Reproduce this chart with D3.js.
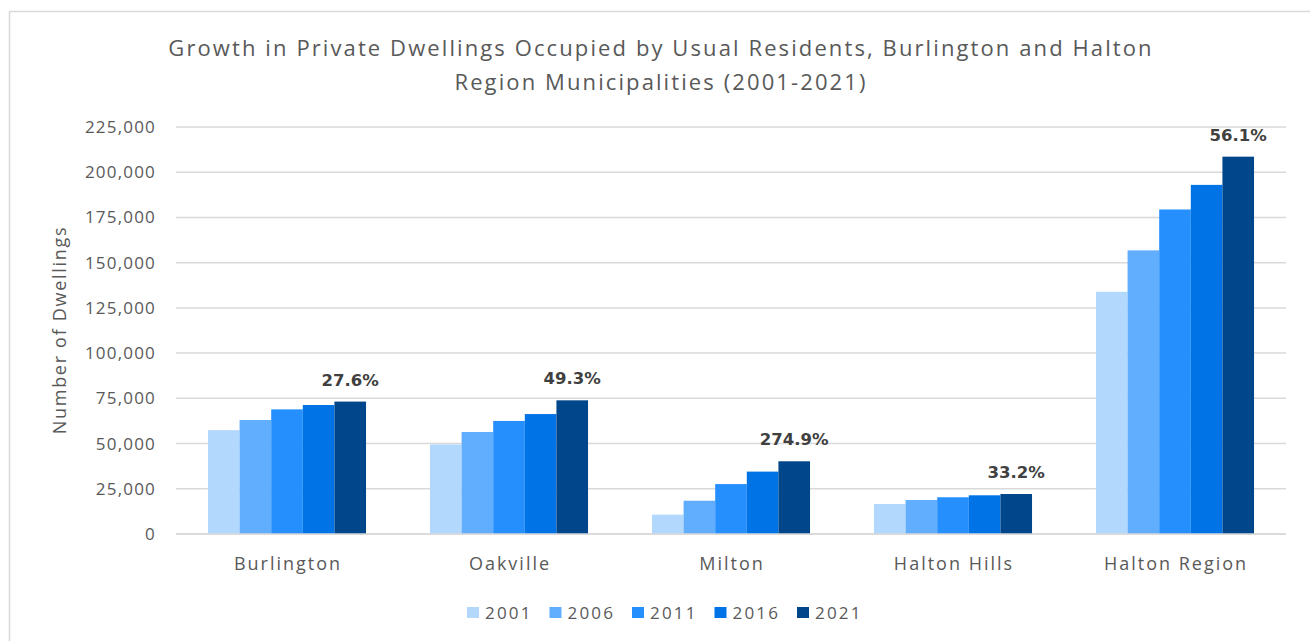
<!DOCTYPE html>
<html>
<head>
<meta charset="utf-8">
<script src="https://cdnjs.cloudflare.com/ajax/libs/d3/7.8.5/d3.min.js"></script>
<style>
  body { margin: 0; background: #fff; }
  #chart { width: 1310px; height: 641px; }
</style>
</head>
<body>
<div id="chart"></div>
<script>
// values
const places = ["Burlington", "Oakville", "Milton", "Halton Hills", "Halton Region"];
const years = ["2001", "2006", "2011", "2016", "2021"];
const dwellings2001 = [57400, 49500, 10700, 16600, 133900];
const dwellings2006 = [63000, 56400, 18400, 18800, 156800];
const dwellings2011 = [68900, 62500, 27600, 20300, 179400];
const dwellings2016 = [71300, 66300, 34500, 21400, 193000];
const dwellings2021 = [73200, 73900, 40200, 22100, 208600];
const growthLabels = ["27.6%", "49.3%", "274.9%", "33.2%", "56.1%"];
const yTicks = [0, 25000, 50000, 75000, 100000, 125000, 150000, 175000, 200000, 225000];
const colors = ["#b3d8fd", "#61adfe", "#258ffe", "#0073e6", "#00468b"];

const series = [dwellings2001, dwellings2006, dwellings2011, dwellings2016, dwellings2021];

const W = 1310, H = 641;
const margin = {left: 176, right: 24, top: 127, bottom: 107};
const textColor = "#595959";

const svg = d3.select("#chart").append("svg")
    .attr("width", W).attr("height", H);

// outer frame
svg.append("rect")
    .attr("x", 9.5).attr("y", 11.5)
    .attr("width", W).attr("height", H)
    .attr("fill", "none").attr("stroke", "#d9d9d9").attr("stroke-width", 1.5);

const x0 = d3.scaleBand()
    .domain(places)
    .range([margin.left, W - margin.right])
    .paddingInner(0.288)
    .paddingOuter(0.144);

const x1 = d3.scaleBand()
    .domain(years)
    .range([0, x0.bandwidth()]);

const y = d3.scaleLinear()
    .domain([0, 225000])
    .range([H - margin.bottom, margin.top]);

const color = d3.scaleOrdinal().domain(years).range(colors);

// gridlines
svg.append("g")
  .selectAll("line")
  .data(yTicks)
  .enter().append("line")
    .attr("x1", margin.left).attr("x2", W - margin.right)
    .attr("y1", d => y(d)).attr("y2", d => y(d))
    .attr("stroke", "#d9d9d9").attr("stroke-width", 1.5);

// y axis labels
const yAxis = d3.axisLeft(y).tickValues(yTicks).tickFormat(d3.format(",")).tickSize(0).tickPadding(20);
svg.append("g")
    .attr("transform", "translate(" + margin.left + ",0)")
    .call(yAxis)
    .call(g => g.select(".domain").remove())
    .selectAll("text")
    .attr("font-family", "Open Sans")
    .attr("font-size", "17px")
    .attr("letter-spacing", "1.2px")
    .attr("fill", textColor);

// bars
const groups = svg.append("g")
  .selectAll("g")
  .data(places)
  .enter().append("g")
    .attr("transform", d => "translate(" + x0(d) + ",0)");

groups.selectAll("rect")
  .data((p, i) => years.map((yr, j) => ({year: yr, value: series[j][i]})))
  .enter().append("rect")
    .attr("x", d => x1(d.year))
    .attr("width", x1.bandwidth())
    .attr("y", d => y(d.value))
    .attr("height", d => y(0) - y(d.value))
    .attr("fill", d => color(d.year));

// growth labels on the 2021 bar
svg.append("g")
  .selectAll("text")
  .data(places)
  .enter().append("text")
    .attr("x", d => x0(d) + x1("2021") + x1.bandwidth() / 2)
    .attr("y", (d, i) => y(dwellings2021[i]) - 16)
    .attr("text-anchor", "middle")
    .attr("font-family", "DejaVu Sans")
    .attr("font-weight", "bold")
    .attr("font-size", "16.5px")
    .attr("fill", "#404040")
    .text((d, i) => growthLabels[i]);

// x axis baseline + labels
svg.append("line")
    .attr("x1", margin.left).attr("x2", W - margin.right)
    .attr("y1", y(0)).attr("y2", y(0))
    .attr("stroke", "#d9d9d9").attr("stroke-width", 1.5);

svg.append("g")
  .selectAll("text")
  .data(places)
  .enter().append("text")
    .attr("x", d => x0(d) + x0.bandwidth() / 2 + 1)
    .attr("y", 570)
    .attr("text-anchor", "middle")
    .attr("font-family", "Open Sans")
    .attr("font-size", "18px")
    .attr("letter-spacing", "2px")
    .attr("fill", textColor)
    .text(d => d);

// y axis title
svg.append("text")
    .attr("transform", "translate(66,330) rotate(-90)")
    .attr("text-anchor", "middle")
    .attr("font-family", "Open Sans")
    .attr("font-size", "18px")
    .attr("letter-spacing", "1.7px")
    .attr("fill", textColor)
    .text("Number of Dwellings");

// title
const title = svg.append("text")
    .attr("text-anchor", "middle")
    .attr("font-family", "Open Sans")
    .attr("font-size", "22px")
    .attr("letter-spacing", "2.1px")
    .attr("fill", textColor);
title.append("tspan").attr("x", 661).attr("y", 56)
    .text("Growth in Private Dwellings Occupied by Usual Residents, Burlington and Halton");
title.append("tspan").attr("x", 661).attr("y", 90)
    .text("Region Municipalities (2001-2021)");

// legend
const legend = svg.append("g")
  .selectAll("g")
  .data(years)
  .enter().append("g")
    .attr("transform", (d, i) => "translate(" + (467 + i * 82.5) + ",607)");

legend.append("rect")
    .attr("width", 12).attr("height", 11)
    .attr("fill", d => color(d));

legend.append("text")
    .attr("x", 18).attr("y", 12)
    .attr("font-family", "Open Sans")
    .attr("font-size", "17px")
    .attr("letter-spacing", "2.2px")
    .attr("fill", textColor)
    .text(d => d);
</script>
</body>
</html>
